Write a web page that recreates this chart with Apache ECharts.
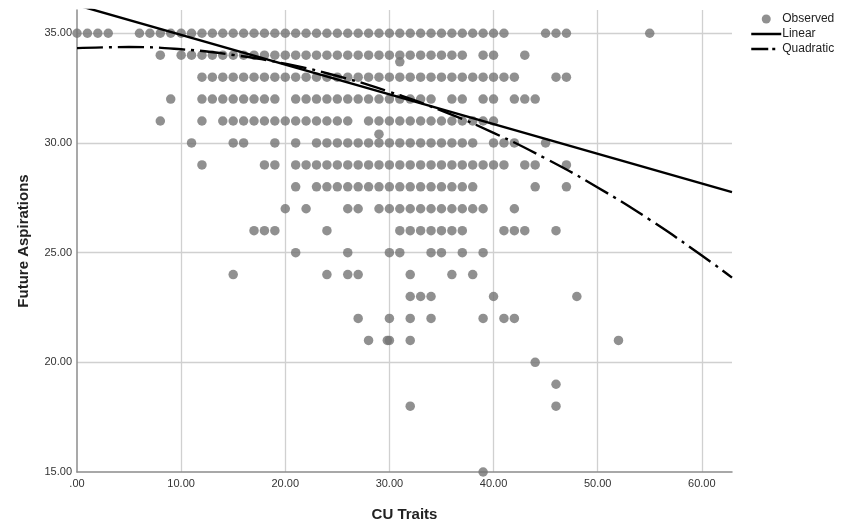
<!DOCTYPE html>
<html>
<head>
<meta charset="utf-8">
<script src="https://cdn.jsdelivr.net/npm/echarts@6/dist/echarts.min.js"></script>
<style>html,body{margin:0;padding:0;background:#fff}#c{width:853px;height:527px}</style>
</head>
<body>
<div id="c"></div>
<script>
// Observed data: each y level with the CU Traits values observed at that level
const obsLevels = [35, 34, 33, 32, 31, 30, 29, 28, 27, 26, 25, 24, 23, 22, 21, 20, 19, 18, 15];
const obsXByLevel = [
  [0,1,2,3,6,7,8,9,10,11,12,13,14,15,16,17,18,19,20,21,22,23,24,25,26,27,28,29,30,31,32,33,34,35,36,37,38,39,40,41,45,46,47,55],
  [8,10,11,12,13,14,15,16,17,18,19,20,21,22,23,24,25,26,27,28,29,30,31,32,33,34,35,36,37,39,40,43],
  [12,13,14,15,16,17,18,19,20,21,22,23,24,25,26,27,28,29,30,31,32,33,34,35,36,37,38,39,40,41,42,46,47],
  [9,12,13,14,15,16,17,18,19,21,22,23,24,25,26,27,28,29,30,31,32,33,34,36,37,39,40,42,43,44],
  [8,12,14,15,16,17,18,19,20,21,22,23,24,25,26,28,29,30,31,32,33,34,35,36,37,38,39,40],
  [11,15,16,19,21,23,24,25,26,27,28,29,30,31,32,33,34,35,36,37,38,40,41,42,45],
  [12,18,19,21,22,23,24,25,26,27,28,29,30,31,32,33,34,35,36,37,38,39,40,41,43,44,47],
  [21,23,24,25,26,27,28,29,30,31,32,33,34,35,36,37,38,44,47],
  [20,22,26,27,29,30,31,32,33,34,35,36,37,38,39,42],
  [17,18,19,24,31,32,33,34,35,36,37,41,42,43,46],
  [21,26,30,31,34,35,37,39],
  [15,24,26,27,32,36,38],
  [32,33,34,40,48],
  [27,30,32,34,39,41,42],
  [28,30,32,52],
  [44],
  [46],
  [32,46],
  [39]
];
// a few non-integer observations seen as overlapping dots
const obsExtra = [[31, 33.7], [29, 30.4], [29.8, 21]];

// Fit lines
const linearX = [0, 62.9];
const linearY = [36.28, 27.76];
const quadX = [0, 5, 10, 15, 20, 25, 30, 35, 40, 45, 50, 55, 60, 62.9];
const quadY = [34.32, 34.37, 34.27, 34.01, 33.61, 33.05, 32.33, 31.47, 30.46, 29.29, 27.97, 26.50, 24.87, 23.86];

// Axis settings
const xMin = 0, xMax = 62.9, xStep = 10;
const yMin = 15, yMax = 36.06, yStep = 5;

const observed = [];
obsLevels.forEach((lv, i) => obsXByLevel[i].forEach(x => observed.push([x, lv])));
obsExtra.forEach(p => observed.push(p));

const fmt = v => {
  const s = Number(v).toFixed(2);
  return s.startsWith('0.') ? s.slice(1) : s;
};
const FONT = 'Liberation Sans, Arial, sans-serif';

const chart = echarts.init(document.getElementById('c'), null, {renderer: 'canvas'});
chart.setOption({
  animation: false,
  backgroundColor: '#ffffff',
  textStyle: {fontFamily: FONT},
  grid: {left: 77, right: 121, top: 10, bottom: 54, containLabel: false},
  legend: {
    orient: 'vertical', left: 745, top: 8,
    itemWidth: 30, itemHeight: 9, itemGap: 3,
    textStyle: {fontFamily: FONT, fontSize: 12, color: '#222', padding: [0,0,0,-4]},
    data: [
      {name: 'Observed', icon: 'circle'},
      {name: 'Linear', itemStyle: {opacity: 0}, lineStyle: {width: 2.5}},
      {name: 'Quadratic', itemStyle: {opacity: 0}, lineStyle: {width: 2.5, type: [17, 4, 3, 8]}}
    ]
  },
  xAxis: {
    type: 'value', min: xMin, max: xMax, interval: xStep,
    name: 'CU Traits', nameLocation: 'middle', nameGap: 35,
    nameTextStyle: {fontFamily: FONT, fontSize: 15, fontWeight: 'bold', color: '#222'},
    axisLine: {show: true, onZero: false, lineStyle: {color: '#8c8c8c', width: 1.5}},
    axisTick: {show: false},
    axisLabel: {fontFamily: FONT, fontSize: 11, color: '#333', margin: 6,
      showMaxLabel: false,
      formatter: v => (Math.abs(v % xStep) < 1e-6 ? fmt(v) : '')},
    splitLine: {show: true, showMinLine: false, showMaxLine: false, lineStyle: {color: '#d0d0d0', width: 1.3}}
  },
  yAxis: {
    type: 'value', min: yMin, max: yMax, interval: yStep,
    name: 'Future Aspirations', nameLocation: 'middle', nameGap: 46, nameRotate: 90,
    nameTextStyle: {fontFamily: FONT, fontSize: 15, fontWeight: 'bold', color: '#222'},
    axisLine: {show: true, onZero: false, lineStyle: {color: '#8c8c8c', width: 1.5}},
    axisTick: {show: false},
    axisLabel: {fontFamily: FONT, fontSize: 11, color: '#333', margin: 5,
      showMaxLabel: false,
      formatter: v => (Math.abs(v % yStep) < 1e-6 ? fmt(v) : '')},
    splitLine: {show: true, showMinLine: false, showMaxLine: false, lineStyle: {color: '#d0d0d0', width: 1.3}}
  },
  series: [
    {
      name: 'Observed', type: 'scatter', symbol: 'circle', symbolSize: 9.5,
      itemStyle: {color: '#747474'}, data: observed, z: 2
    },
    {
      name: 'Linear', type: 'line', symbol: 'none', showSymbol: false,
      lineStyle: {color: '#000', width: 2.4}, itemStyle: {color: '#000'},
      data: linearX.map((x, i) => [x, linearY[i]]), z: 3, clip: true
    },
    {
      name: 'Quadratic', type: 'line', symbol: 'none', showSymbol: false, smooth: true,
      lineStyle: {color: '#000', width: 2.4, type: [26, 6, 3, 6], cap: 'butt'}, itemStyle: {color: '#000'},
      data: quadX.map((x, i) => [x, quadY[i]]), z: 3, clip: true
    }
  ]
});
</script>
</body>
</html>
